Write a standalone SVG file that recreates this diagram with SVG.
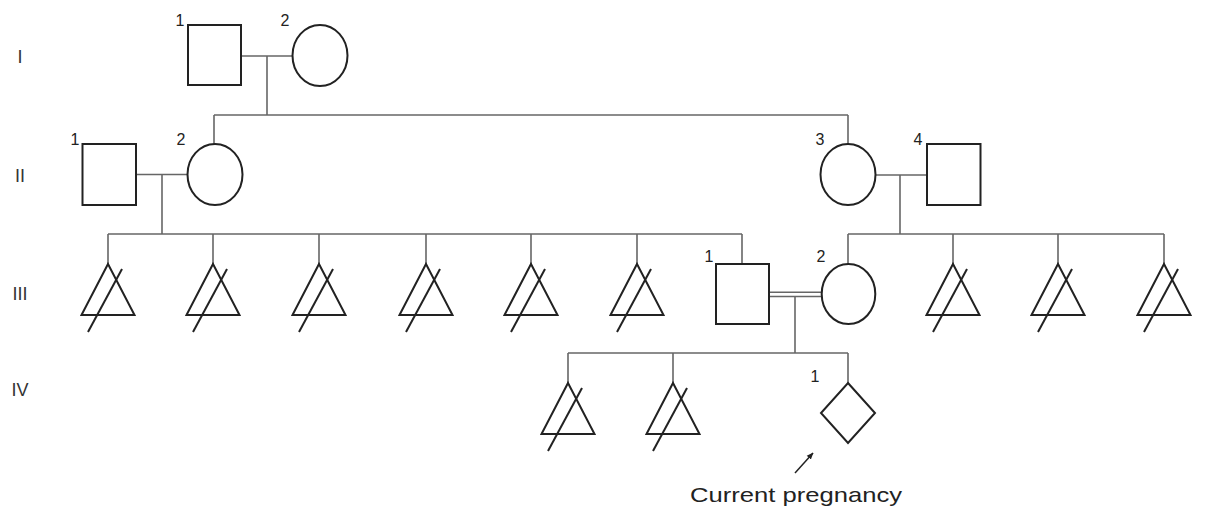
<svg xmlns="http://www.w3.org/2000/svg" width="1205" height="522" viewBox="0 0 1205 522">
<style>
.n{fill:#fff;stroke:#222;stroke-width:2}
.s{fill:none;stroke:#222;stroke-width:2}
.c{fill:none;stroke:#666;stroke-width:1.6}
.t{font-family:"Liberation Sans",Arial,sans-serif;font-size:16px;fill:#222;text-anchor:middle}
.g{font-family:"Liberation Sans",Arial,sans-serif;font-size:18px;fill:#333;text-anchor:middle}
</style>
<defs>
<g id="sab">
<path class="n" d="M0,0 L26.5,51 L-26.5,51 Z"/>
<line class="s" x1="14" y1="5" x2="-20" y2="68"/>
</g>
<marker id="ah" viewBox="0 0 10 10" refX="9" refY="5" markerWidth="7" markerHeight="7" orient="auto" markerUnits="userSpaceOnUse">
<path d="M0,1 L10,5 L0,9 Z" fill="#222"/>
</marker>
</defs>
<g id="gen-labels">
<text class="g" x="20" y="63">I</text>
<text class="g" x="20" y="182">II</text>
<text class="g" x="20" y="300">III</text>
<text class="g" x="20" y="396">IV</text>
</g>
<g id="connectors">
<line class="c" x1="241" y1="56" x2="293" y2="56"/>
<line class="c" x1="267" y1="56" x2="267" y2="115"/>
<line class="c" x1="214" y1="115" x2="848" y2="115"/>
<line class="c" x1="214" y1="115" x2="214" y2="144"/>
<line class="c" x1="848" y1="115" x2="848" y2="144"/>
<line class="c" x1="136" y1="174.5" x2="188" y2="174.5"/>
<line class="c" x1="162" y1="174.5" x2="162" y2="234"/>
<line class="c" x1="108" y1="234" x2="742" y2="234"/>
<line class="c" x1="108" y1="234" x2="108" y2="264"/>
<line class="c" x1="213" y1="234" x2="213" y2="264"/>
<line class="c" x1="319" y1="234" x2="319" y2="264"/>
<line class="c" x1="426" y1="234" x2="426" y2="264"/>
<line class="c" x1="531" y1="234" x2="531" y2="264"/>
<line class="c" x1="637" y1="234" x2="637" y2="264"/>
<line class="c" x1="742" y1="234" x2="742" y2="264"/>
<line class="c" x1="875" y1="175" x2="927" y2="175"/>
<line class="c" x1="900" y1="175" x2="900" y2="234"/>
<line class="c" x1="848" y1="234" x2="1164" y2="234"/>
<line class="c" x1="848" y1="234" x2="848" y2="264"/>
<line class="c" x1="953" y1="234" x2="953" y2="264"/>
<line class="c" x1="1058" y1="234" x2="1058" y2="264"/>
<line class="c" x1="1164" y1="234" x2="1164" y2="264"/>
<line class="c" x1="769" y1="292.3" x2="822" y2="292.3"/>
<line class="c" x1="769" y1="296.5" x2="822" y2="296.5"/>
<line class="c" x1="795" y1="296.5" x2="795" y2="353"/>
<line class="c" x1="568" y1="353" x2="848" y2="353"/>
<line class="c" x1="568" y1="353" x2="568" y2="383"/>
<line class="c" x1="673" y1="353" x2="673" y2="383"/>
<line class="c" x1="848" y1="353" x2="848" y2="383"/>
<line x1="795" y1="473" x2="813" y2="453" stroke="#222" stroke-width="1.5" marker-end="url(#ah)"/>
</g>
<g id="I-1"><rect class="n" x="188" y="25" width="53" height="60"/><text class="t" x="180" y="26">1</text></g>
<g id="I-2"><ellipse class="n" cx="320" cy="55.5" rx="27.5" ry="30.5"/><text class="t" x="285" y="26">2</text></g>
<g id="II-1"><rect class="n" x="82.5" y="144" width="53.5" height="61"/><text class="t" x="75" y="145">1</text></g>
<g id="II-2"><ellipse class="n" cx="215" cy="174.5" rx="27.5" ry="30.5"/><text class="t" x="181" y="145">2</text></g>
<g id="II-3"><ellipse class="n" cx="848" cy="174.5" rx="27.5" ry="30.5"/><text class="t" x="820" y="145">3</text></g>
<g id="II-4"><rect class="n" x="927" y="144" width="53.5" height="61"/><text class="t" x="918" y="145">4</text></g>
<g id="III-sab-1"><use href="#sab" x="108" y="264"/></g>
<g id="III-sab-2"><use href="#sab" x="213" y="264"/></g>
<g id="III-sab-3"><use href="#sab" x="319" y="264"/></g>
<g id="III-sab-4"><use href="#sab" x="426" y="264"/></g>
<g id="III-sab-5"><use href="#sab" x="531" y="264"/></g>
<g id="III-sab-6"><use href="#sab" x="637" y="264"/></g>
<g id="III-1"><rect class="n" x="716" y="264" width="53" height="60"/><text class="t" x="709" y="262">1</text></g>
<g id="III-2"><ellipse class="n" cx="848.5" cy="294" rx="26.8" ry="30"/><text class="t" x="821" y="262">2</text></g>
<g id="III-sab-7"><use href="#sab" x="953" y="264"/></g>
<g id="III-sab-8"><use href="#sab" x="1058" y="264"/></g>
<g id="III-sab-9"><use href="#sab" x="1164" y="264"/></g>
<g id="IV-sab-1"><use href="#sab" x="568" y="383"/></g>
<g id="IV-sab-2"><use href="#sab" x="673" y="383"/></g>
<g id="IV-1"><path class="n" d="M848,383 L875,413 L848,443 L821,413 Z"/><text class="t" x="815" y="382">1</text></g>
<g id="note"><text x="690" y="501.5" font-family="&quot;Liberation Sans&quot;,Arial,sans-serif" font-size="21" fill="#222" textLength="212" lengthAdjust="spacingAndGlyphs">Current pregnancy</text></g>
</svg>
